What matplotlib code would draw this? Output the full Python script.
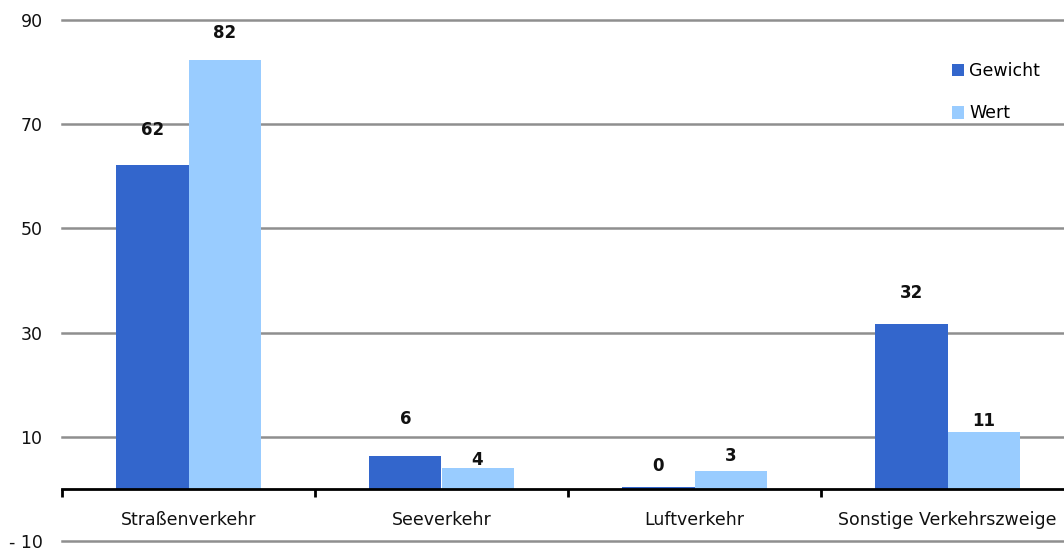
import matplotlib
matplotlib.use("Agg")
import matplotlib.pyplot as plt
import numpy as np

categories = ["Straßenverkehr", "Seeverkehr", "Luftverkehr", "Sonstige Verkehrszweige"]
gewicht = [62.1, 6.3, 0.3, 31.7]
wert = [82.4, 4.0, 3.4, 10.9]
gewicht_labels = ["62", "6", "0", "32"]
wert_labels = ["82", "4", "3", "11"]
series_names = ["Gewicht", "Wert"]
yticks = [-10, 10, 30, 50, 70, 90]
ytick_labels = ["- 10", "10", "30", "50", "70", "90"]

# label baseline offsets above bar tops (pixels), styling only
gew_pad = [30, 32, 16, 26]
wert_pad = [22, 3, 10, 6]

W, H = 1064, 550
fig = plt.figure(figsize=(W / 100, H / 100), dpi=100)
ax = fig.add_axes([62 / W, 3.8 / H, 1012 / W, 531.4 / H])
ax.set_xlim(-0.5, 3.5)
ax.set_ylim(-11, 91)

dark = "#3366CC"
light = "#99CCFF"
bw = 0.285
x = np.arange(len(categories))

for yv in yticks:
    ax.axhline(yv, color="#8f8f8f", lw=1.8, zorder=0, clip_on=False)

b1 = ax.bar(x - bw / 2, gewicht, bw, color=dark, label=series_names[0], zorder=2)
b2 = ax.bar(x + bw / 2, wert, bw, color=light, label=series_names[1], zorder=2)

for i in range(len(categories)):
    ax.annotate(gewicht_labels[i], (x[i] - bw / 2, gewicht[i]), xytext=(0, gew_pad[i] * 0.72),
                textcoords="offset points", ha="center", va="baseline", fontsize=12,
                fontweight="bold", color="#111111")
    ax.annotate(wert_labels[i], (x[i] + bw / 2, wert[i]), xytext=(0, wert_pad[i] * 0.72),
                textcoords="offset points", ha="center", va="baseline", fontsize=12,
                fontweight="bold", color="#111111")

# axes styling
for s in ["top", "right", "left"]:
    ax.spines[s].set_visible(False)
ax.spines["bottom"].set_position(("data", 0))
ax.spines["bottom"].set_linewidth(2)
ax.spines["bottom"].set_color("#000000")
ax.spines["bottom"].set_zorder(3)

ax.set_xticks([-0.5, 0.5, 1.5, 2.5, 3.5])
ax.set_xticklabels([])
ax.tick_params(axis="x", which="major", length=6, width=2, direction="out", color="#000000")
ax.set_xticks(x, minor=True)
ax.set_xticklabels(categories, minor=True, fontsize=12.5, color="#111111")
ax.tick_params(axis="x", which="minor", length=0, pad=16)

ax.set_yticks(yticks)
ax.set_yticklabels(ytick_labels, fontsize=12.5, color="#111111")
ax.tick_params(axis="y", length=0, pad=14)

leg = ax.legend(loc="upper left", bbox_to_anchor=(945 / W, 1 - 55 / H),
                bbox_transform=fig.transFigure, frameon=False, fontsize=12.5,
                handlelength=0.7, handleheight=0.75, handletextpad=0.3,
                labelspacing=1.4, borderaxespad=0)

fig.savefig("out.png", dpi=100)
